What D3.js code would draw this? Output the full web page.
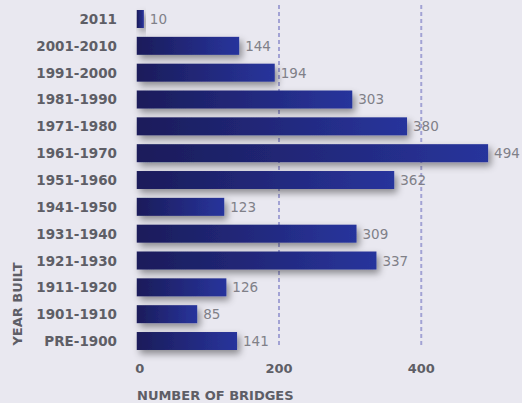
<!DOCTYPE html>
<html><head><meta charset="utf-8">
<script src="https://cdn.jsdelivr.net/npm/d3@7"></script>
<style>html,body{margin:0;padding:0;background:#e9e8f0;}svg{display:block;}</style>
</head><body>
<script>
const categories = ["2011","2001-2010","1991-2000","1981-1990","1971-1980","1961-1970","1951-1960","1941-1950","1931-1940","1921-1930","1911-1920","1901-1910","PRE-1900"];
const values = [10,144,194,303,380,494,362,123,309,337,126,85,141];
const tickValues = [0,200,400];

const W = 522, H = 403;
const svg = d3.select("body").append("svg").attr("width", W).attr("height", H);
svg.append("rect").attr("width", W).attr("height", H).attr("fill", "#e9e8f0");

const defs = svg.append("defs");
const grad = defs.append("linearGradient").attr("id","barGrad").attr("x1","0").attr("x2","1").attr("y1","0").attr("y2","0");
grad.append("stop").attr("offset","0%").attr("stop-color","#1b1c5a");
grad.append("stop").attr("offset","100%").attr("stop-color","#28349c");
const f = defs.append("filter").attr("id","shadow").attr("x","-10%").attr("y","-60%").attr("width","130%").attr("height","280%");
f.append("feDropShadow").attr("dx",3).attr("dy",4).attr("stdDeviation",3.5).attr("flood-color","#000").attr("flood-opacity",0.4);

const x = d3.scaleLinear().domain([0,400]).range([136.75, 421.25]);
const y = d3.scaleBand().domain(categories).range([5.58, 354.42]).paddingInner(0.33).paddingOuter(0.165);

// gridlines
svg.append("g").selectAll("line").data(tickValues.filter(d => d > 0)).join("line")
  .attr("x1", d => x(d)).attr("x2", d => x(d))
  .attr("y1", 5).attr("y2", 348)
  .attr("stroke", "#a2a2d4").attr("stroke-width", 2).attr("stroke-dasharray", "4,3");

// bars
svg.append("g").selectAll("rect").data(values).join("rect")
  .attr("x", x(0))
  .attr("y", (d,i) => y(categories[i]))
  .attr("width", d => x(d) - x(0))
  .attr("height", y.bandwidth())
  .attr("fill", "url(#barGrad)")
  .attr("filter", "url(#shadow)");

// value labels
svg.append("g").selectAll("text").data(values).join("text")
  .attr("x", d => x(d) + 6)
  .attr("y", (d,i) => y(categories[i]) + y.bandwidth()/2 + 5)
  .attr("font-family", "DejaVu Sans, sans-serif")
  .attr("font-size", 13.5)
  .attr("fill", "#808088")
  .text(d => d);

// category labels
svg.append("g").selectAll("text").data(categories).join("text")
  .attr("x", 117)
  .attr("y", d => y(d) + y.bandwidth()/2 + 5)
  .attr("text-anchor", "end")
  .attr("font-family", "DejaVu Sans, sans-serif")
  .attr("font-weight", "bold")
  .attr("font-size", 13.5)
  .attr("fill", "#5e5e66")
  .text(d => d);

// x axis tick labels
svg.append("g").selectAll("text").data(tickValues).join("text")
  .attr("x", d => d === 0 ? x(d) + 3 : x(d))
  .attr("y", 373)
  .attr("text-anchor", "middle")
  .attr("font-family", "DejaVu Sans, sans-serif")
  .attr("font-weight", "bold")
  .attr("font-size", 13)
  .attr("fill", "#5e5e66")
  .text(d => d);

// axis titles
svg.append("text")
  .attr("x", 137).attr("y", 400)
  .attr("font-family", "DejaVu Sans, sans-serif")
  .attr("font-weight", "bold")
  .attr("font-size", 13)
  .attr("fill", "#5e5e66")
  .text("NUMBER OF BRIDGES");

svg.append("text")
  .attr("transform", "translate(22,304) rotate(-90)")
  .attr("text-anchor", "middle")
  .attr("font-family", "DejaVu Sans, sans-serif")
  .attr("font-weight", "bold")
  .attr("font-size", 13)
  .attr("fill", "#5e5e66")
  .text("YEAR BUILT");
</script>
</body></html>
